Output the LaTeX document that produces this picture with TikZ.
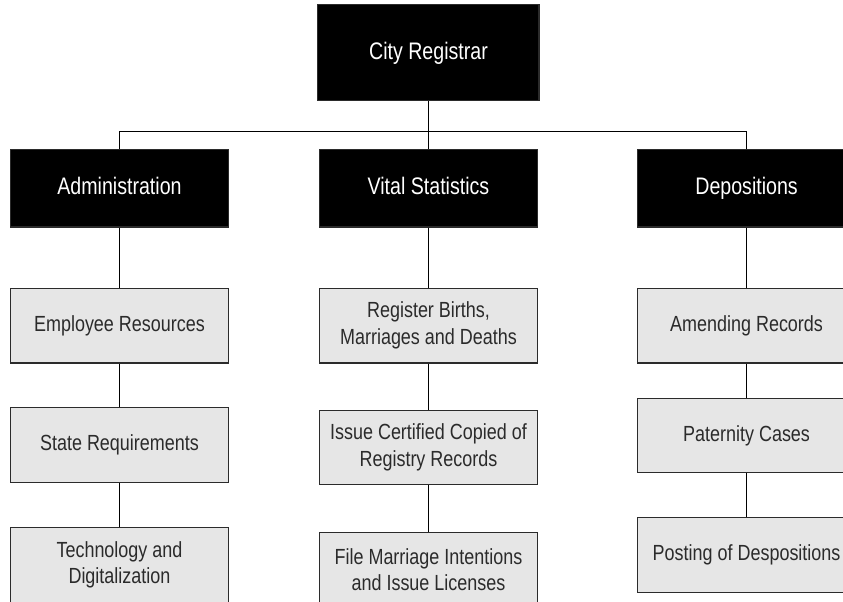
\documentclass[tikz,border=0pt]{standalone}
\usepackage{fontspec}
\setmainfont{Liberation Sans}[FakeStretch=0.82]
\usepackage{xcolor}
\usepackage{tikz}
\usetikzlibrary{positioning}
\definecolor{unitgray}{HTML}{E6E6E6}
\definecolor{edgegray}{HTML}{2B2B2B}

\begin{document}
\begin{tikzpicture}[every node/.style={font=\fontsize{16.5pt}{20pt}\selectfont},node distance=12mm,line width=0.8pt]
    \useasboundingbox (-113.4mm,14.0mm) rectangle (109.7mm,-145.3mm);
    \tikzset{headbox/.style={draw=edgegray,fill=black,text=white,minimum width=57.7mm,minimum height=20.4mm,text height=13pt,text depth=3.5pt,font=\fontsize{18pt}{20pt}\selectfont},
             unitbox/.style={draw=edgegray,fill=unitgray,text=edgegray,align=center,minimum width=57.7mm,minimum height=19.8mm}}
    \node[headbox,minimum width=58.5mm,minimum height=25.4mm] (root) at (0,0) {City Registrar};
    % divisions
    \node[headbox,below=12.7mm of root] (vital) {Vital Statistics};
    \node[headbox,left=23.8mm of vital] (admin) {Administration};
    \node[headbox,right=26.2mm of vital] (depo) {Depositions};
    % connectors
    \draw (root.south) -- ++(0,-7.9mm) coordinate (bus);
    \foreach \n in {admin,vital,depo} {\draw (bus) -| (\n.north);}
    % units
    \node[unitbox,below=15.9mm of admin] (staff) {Employee Resources};
    \node[unitbox,below=11.6mm of staff] (state) {State Requirements};
    \node[unitbox,below=11.6mm of state] (tech) {Technology and\\Digitalization};
    \node[unitbox,below=15.9mm of vital] (births) {Register Births,\\Marriages and Deaths};
    \node[unitbox,below=12.2mm of births] (copies) {Issue Certified Copied of\\Registry Records};
    \node[unitbox,below=12.2mm of copies] (licence) {File Marriage Intentions\\and Issue Licenses};
    \node[unitbox,below=15.9mm of depo] (amend) {Amending Records};
    \node[unitbox,below=9mm of amend] (paternity) {Paternity Cases};
    \node[unitbox,below=11.6mm of paternity] (posting) {Posting of Despositions};
    \foreach \a/\b in {admin/staff,staff/state,state/tech,vital/births,births/copies,copies/licence,depo/amend,amend/paternity,paternity/posting} {\draw (\a) -- (\b);}
  \end{tikzpicture}
\end{document}
